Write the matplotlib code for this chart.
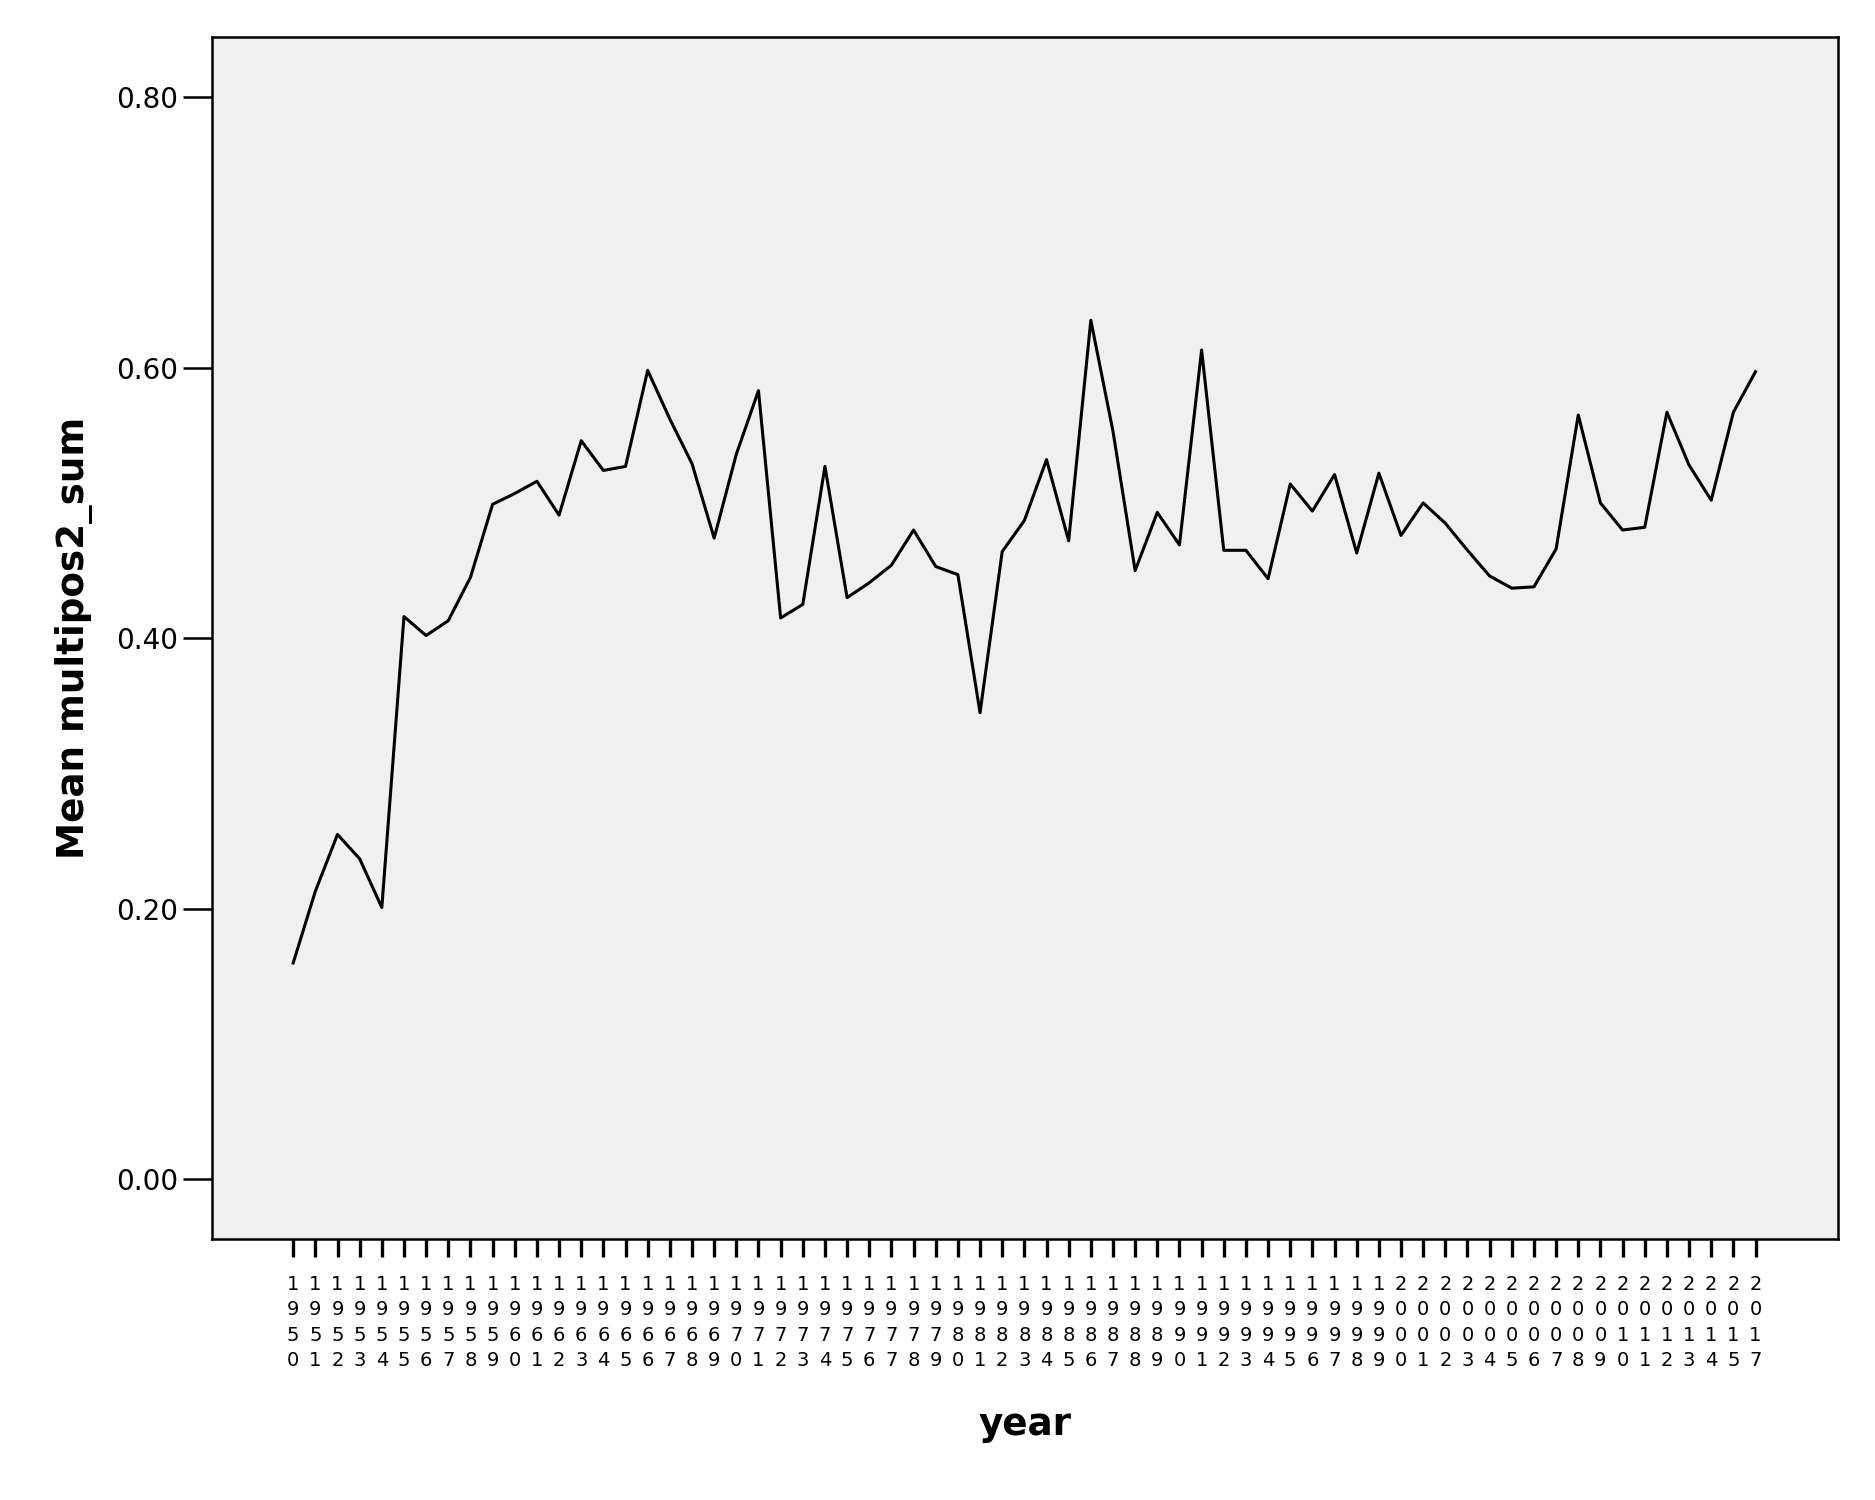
import numpy as np
import matplotlib
matplotlib.use("Agg")
import matplotlib.pyplot as plt

# -------------------------
# DATA
# -------------------------

years = list(range(1950, 2016)) + [2017]

mean_multipos2_sum = [
    0.160, 0.213, 0.255, 0.237, 0.201, 0.416, 0.402, 0.413, 0.445, 0.499,
    0.507, 0.516, 0.491, 0.546, 0.524, 0.527, 0.598, 0.562, 0.529, 0.474,
    0.536, 0.583, 0.415, 0.425, 0.527, 0.430, 0.441, 0.454, 0.480, 0.453,
    0.447, 0.345, 0.464, 0.487, 0.532, 0.472, 0.635, 0.553, 0.450, 0.493,
    0.469, 0.613, 0.465, 0.465, 0.444, 0.514, 0.494, 0.521, 0.463, 0.522,
    0.476, 0.500, 0.485, 0.465, 0.446, 0.437, 0.438, 0.466, 0.565, 0.500,
    0.480, 0.482, 0.567, 0.528, 0.502, 0.567, 0.597,
]

y_ticks = [0.0, 0.2, 0.4, 0.6, 0.8]

# -------------------------
# PLOT
# -------------------------

positions = np.arange(len(years))
# stacked digits, as in the original category axis
tick_labels = ["\n".join(str(y)) for y in years]

fig = plt.figure(figsize=(18.75, 15), dpi=100)
ax = fig.add_axes([0.113, 0.174, 0.867, 0.801])
ax.set_facecolor("#f0f0f0")

ax.plot(positions, mean_multipos2_sum, "-", color="black", linewidth=2.2)

ax.set_xlim(-3.67, 69.7)
ax.set_ylim(-0.044, 0.844)

ax.set_yticks(y_ticks)
ax.set_yticklabels([f"{v:.2f}" for v in y_ticks], fontsize=20)
ax.set_xticks(positions)
ax.set_xticklabels(tick_labels, fontsize=14, linespacing=1.42, va="top")

ax.tick_params(axis="y", direction="out", length=21, width=1.8, pad=3.5)
ax.tick_params(axis="x", direction="out", length=13, width=2.4, pad=13)

for s in ax.spines.values():
    s.set_linewidth(1.8)
    s.set_color("black")

ax.set_ylabel("Mean multipos2_sum", fontsize=26.8, fontweight="bold", labelpad=16)
ax.set_xlabel("year", fontsize=26.8, fontweight="bold", labelpad=26)

fig.savefig("out.png", dpi=100, facecolor="white")
